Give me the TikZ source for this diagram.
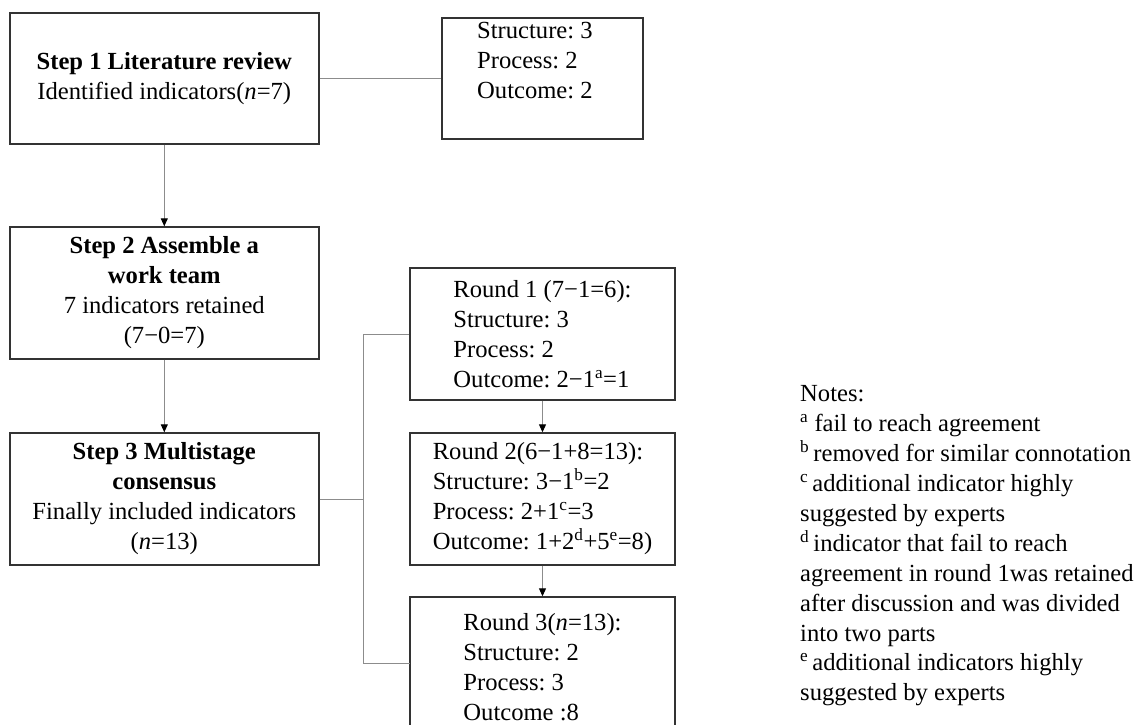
\documentclass[tikz,border=0pt]{standalone}
\usepackage{fontspec}
\setmainfont{Liberation Serif}
\usetikzlibrary{arrows.meta}
\definecolor{boxc}{HTML}{333333}
\definecolor{linec}{HTML}{8C8C8C}
\frenchspacing
\begin{document}
\begin{tikzpicture}[x=1pt,y=-1pt,
  box/.style={draw=boxc, line width=1.4pt, inner sep=0pt, fill=white},
  conn/.style={draw=linec, line width=1pt},
  arr/.style={conn, -{Triangle[length=8pt,width=7pt,fill=black,color=black]}},
  txt/.style={font=\fontsize{24.6}{30}\selectfont, align=center},
  ltxt/.style={font=\fontsize{24.6}{30}\selectfont, align=left},
  notes/.style={font=\fontsize{24.6}{29.9}\selectfont, align=left, inner sep=0pt},
]
\clip (0,0) rectangle (1143,725);
\fill[white] (0,0) rectangle (1143,725);
% left column
\node[box, txt, minimum width=309pt, minimum height=131pt] (b1) at (164.3,78.5)
  {\textbf{Step 1 Literature review}\\Identified indicators(\textit{n}=7)};
\node[box, minimum width=201pt, minimum height=121pt] (s1) at (542.5,78.5) {};
\node[ltxt, inner sep=0pt, anchor=north west] (s1t) at (477,22.3)
  {Structure: 3\\Process: 2\\Outcome: 2};
\node[box, txt, minimum width=309pt, minimum height=132pt] (b2) at (164.3,293)
  {\textbf{Step 2 Assemble a}\\\textbf{work team}\\7 indicators retained\\(7−0=7)};
\node[box, txt, minimum width=309pt, minimum height=132pt] (b3) at (164.3,499)
  {\textbf{Step 3 Multistage}\\\textbf{consensus}\\Finally included indicators\\(\textit{n}=13)};
% right column
\node[box, ltxt, minimum width=265pt, minimum height=132pt] (r1) at (542.5,334)
  {Round 1 (7−1=6):\\Structure: 3\\Process: 2\\Outcome: 2−1\textsuperscript{a}=1};
\node[box, ltxt, minimum width=265pt, minimum height=132pt] (r2) at (542.5,499)
  {Round 2(6−1+8=13):\\Structure: 3−1\textsuperscript{b}=2\\Process: 2+1\textsuperscript{c}=3\\Outcome: 1+2\textsuperscript{d}+5\textsuperscript{e}=8)};
\node[box, ltxt, minimum width=265pt, minimum height=140pt] (r3) at (542.5,667)
  {Round 3(\textit{n}=13):\\Structure: 2\\Process: 3\\Outcome :8};
% notes
\node[notes, anchor=north west] (nt) at (800,385.5)
  {Notes:\\
   \textsuperscript{a} fail to reach agreement\\
   \textsuperscript{b}\,removed for similar connotation\\
   \textsuperscript{c}\,additional indicator highly\\
   suggested by experts\\
   \textsuperscript{d}\,indicator that fail to reach\\
   agreement in round 1was retained\\
   after discussion and was divided\\
   into two parts\\
   \textsuperscript{e}\,additional indicators highly\\
   suggested by experts};
% connectors
\draw[conn] (b1.east) -- (s1.west);
\draw[arr] (b1.south) -- (b2.north);
\draw[arr] (b2.south) -- (b3.north);
\draw[arr] (r1.south) -- (r2.north);
\draw[arr] (r2.south) -- (r3.north);
\coordinate (j) at (363.6,499);
\coordinate (r3in) at (410,663);
\draw[conn] (b3.east) -- (j);
\draw[conn] (r1.west) -| (j) |- (r3in);
\end{tikzpicture}
\end{document}
